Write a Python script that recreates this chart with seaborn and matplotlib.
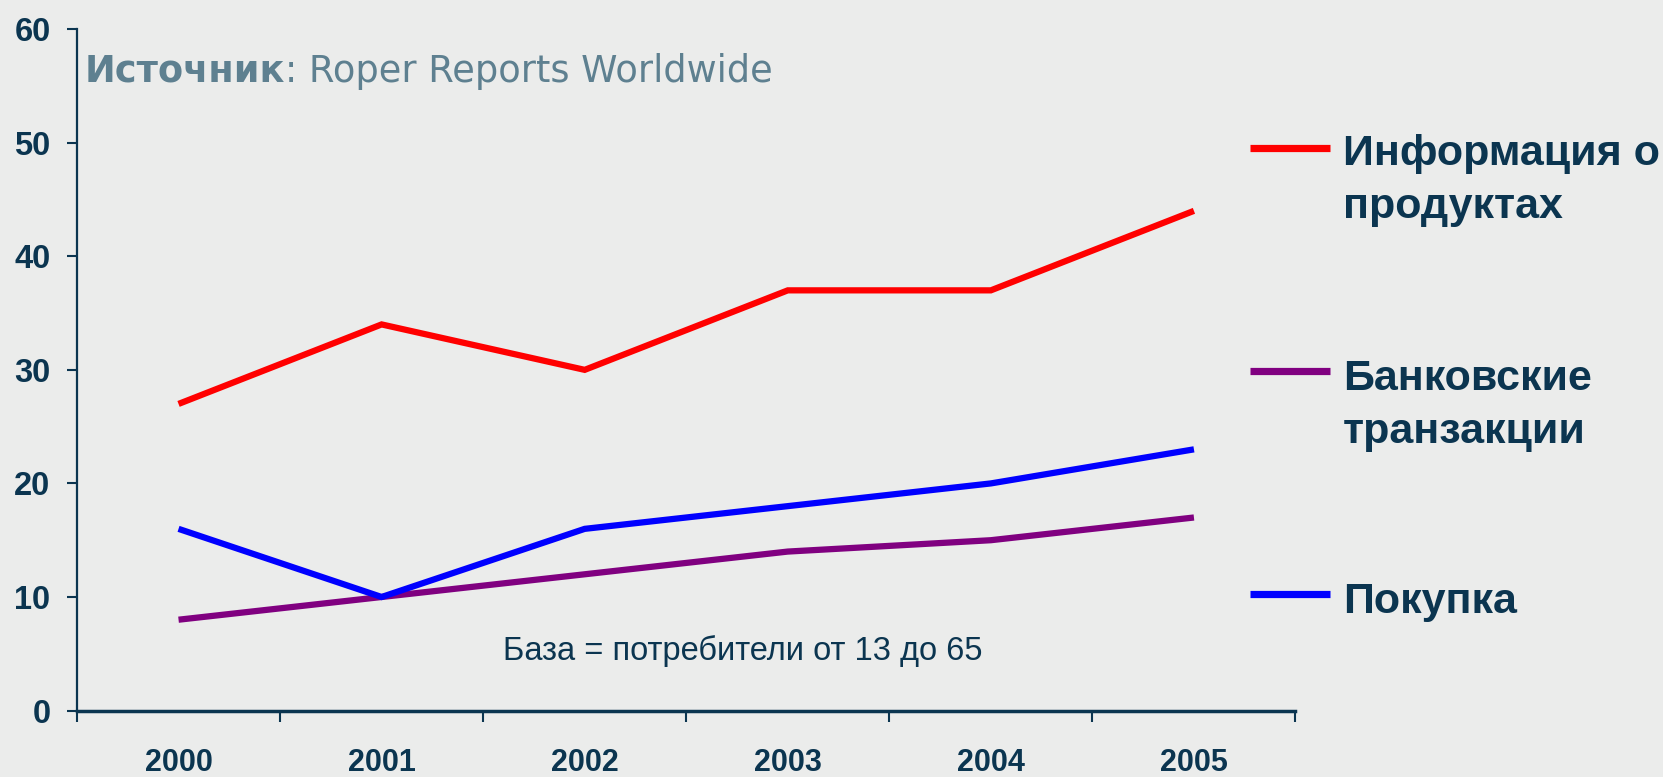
import matplotlib
matplotlib.use("Agg")
import matplotlib.pyplot as plt
import seaborn as sns
import pandas as pd
from matplotlib.lines import Line2D
from matplotlib.ticker import FixedLocator, NullFormatter

years = [2000, 2001, 2002, 2003, 2004, 2005]
info_products = [27, 34, 30, 37, 37, 44]
bank_transactions = [8, 10, 12, 14, 15, 17]
purchase = [16, 10, 16, 18, 20, 23]

series_names = ["Информация о продуктах", "Банковские транзакции", "Покупка"]
legend_lines = [["Информация о", "продуктах"], ["Банковские", "транзакции"], ["Покупка"]]
series_colors = ["#ff0000", "#800080", "#0000ff"]
y_ticks = [0, 10, 20, 30, 40, 50, 60]
source_bold = "Источник"
source_rest = ": Roper Reports Worldwide"
base_note = "База = потребители от 13 до 65"

BG = "#ebeceb"
NAVY = "#0b3550"
SLATE = "#5e8090"

df = pd.DataFrame({
    "year": years * 3,
    "value": info_products + bank_transactions + purchase,
    "series": [series_names[0]] * 6 + [series_names[1]] * 6 + [series_names[2]] * 6,
})

sns.set_theme(style="white")
plt.rcParams["font.family"] = ["Liberation Sans", "DejaVu Sans"]

fig = plt.figure(figsize=(16.63, 7.77), dpi=100, facecolor=BG)
ax = fig.add_axes([0.0463, 0.0855, 0.7327, 0.877])
ax.set_facecolor(BG)

sns.lineplot(data=df, x="year", y="value", hue="series", palette=series_colors,
             hue_order=series_names, linewidth=4.5, ax=ax, legend=False, sort=False)
for ln in ax.lines:
    ln.set_solid_joinstyle("miter")
    ln.set_solid_capstyle("butt")

ax.set_xlim(years[0] - 0.5, years[-1] + 0.5)
ax.set_ylim(0, 60)
ax.set_yticks(y_ticks)
ax.set_yticklabels([str(t) for t in y_ticks], fontweight="bold", fontsize=23.5, color=NAVY)

ax.xaxis.set_major_locator(FixedLocator([y - 0.5 for y in years] + [years[-1] + 0.5]))
ax.xaxis.set_major_formatter(NullFormatter())
ax.xaxis.set_minor_locator(FixedLocator(years))
ax.set_xticklabels([str(y) for y in years], minor=True, fontweight="bold", fontsize=22, color=NAVY)
ax.tick_params(axis="x", which="major", direction="out", length=8, width=1.5, color=NAVY, bottom=True)
ax.tick_params(axis="x", which="minor", length=0, pad=27, bottom=True)
ax.tick_params(axis="y", direction="out", length=7, width=1.5, color=NAVY, pad=12, left=True)

ax.set_xlabel("")
ax.set_ylabel("")
for s in ["top", "right"]:
    ax.spines[s].set_visible(False)
ax.spines["left"].set_color(NAVY)
ax.spines["left"].set_linewidth(1.6)
ax.spines["bottom"].set_color(NAVY)
ax.spines["bottom"].set_linewidth(2.5)

# Source text
t1 = fig.text(85 / 1663, 1 - 82 / 777, source_bold, fontsize=26.5, fontweight="bold",
              color=SLATE, family=["DejaVu Sans"], va="baseline", ha="left")
fig.canvas.draw()
bb = t1.get_window_extent(renderer=fig.canvas.get_renderer())
fig.text(bb.x1 / fig.bbox.width, 1 - 82 / 777, source_rest, fontsize=26.5,
         color=SLATE, family=["DejaVu Sans"], va="baseline", ha="left")

# Base note
ax.text(0.546, 0.087, base_note, transform=ax.transAxes, fontsize=23.5, color=NAVY,
        ha="center", va="center")

# Legend
line_y = [1 - 148 / 777, 1 - 371 / 777, 1 - 594 / 777]
first_baseline = [165, 390, 613]
for i in range(3):
    fig.add_artist(Line2D([1250 / 1663, 1330 / 1663], [line_y[i], line_y[i]],
                          color=series_colors[i], linewidth=5.2, solid_capstyle="butt",
                          transform=fig.transFigure))
    for j, txt in enumerate(legend_lines[i]):
        fig.text(1343 / 1663, 1 - (first_baseline[i] + 53 * j) / 777, txt, fontsize=31,
                 fontweight="bold", color=NAVY, va="baseline", ha="left")

fig.savefig("out.png", dpi=100, facecolor=BG)
